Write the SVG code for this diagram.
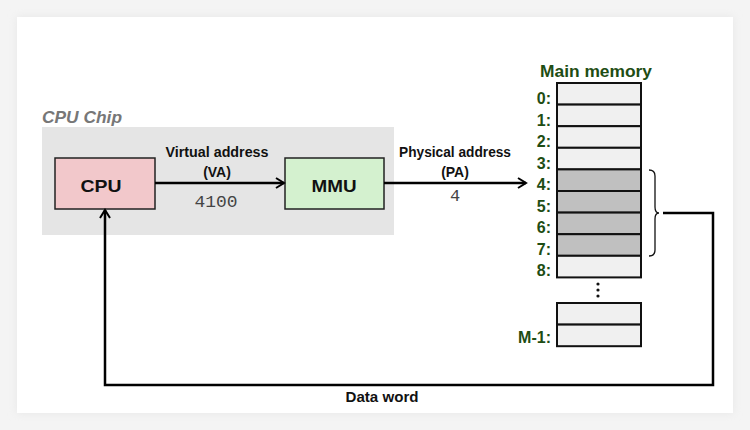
<svg xmlns="http://www.w3.org/2000/svg" width="750" height="430" viewBox="0 0 750 430">
<defs>
<filter id="sh" x="-10%" y="-10%" width="120%" height="120%">
<feGaussianBlur stdDeviation="4"/>
</filter>
<marker id="arr" markerWidth="12" markerHeight="12" refX="10" refY="6" orient="auto" markerUnits="userSpaceOnUse">
<path d="M2,1 L10,6 L2,11" fill="none" stroke="#000" stroke-width="2"/>
</marker>
</defs>
<style>
.lbl{font-family:"Liberation Sans",Arial,sans-serif;font-weight:bold;fill:#111}
.addr{font-family:"Liberation Sans",Arial,sans-serif;font-weight:bold;fill:#1e4d14;font-size:16px;text-anchor:end}
.mono{font-family:"Liberation Mono","Courier New",monospace;fill:#444}
.cell{fill:#f0f0f0;stroke:#111;stroke-width:2}
.cellg{fill:#c0c0c0;stroke:#111;stroke-width:2}
.wire{fill:none;stroke:#000;stroke-width:2.5}
</style>
<rect width="750" height="430" fill="#f4f4f4"/>
<rect x="17" y="17" width="716" height="396" fill="#e6e6e6" filter="url(#sh)"/>
<rect x="17" y="17" width="716" height="396" fill="#ffffff"/>

<g id="chip">
<rect x="42" y="127" width="352" height="108" fill="#e5e5e5"/>
<text x="42" y="123" font-family="Liberation Sans,Arial,sans-serif" font-style="italic" font-weight="bold" font-size="17" fill="#777" textLength="80" lengthAdjust="spacingAndGlyphs">CPU Chip</text>
</g>

<g id="cpu">
<rect x="55" y="158" width="100" height="51" fill="#f2c8cb" stroke="#222" stroke-width="1.5"/>
<text class="lbl" x="101" y="192" font-size="17" text-anchor="middle" textLength="41" lengthAdjust="spacingAndGlyphs">CPU</text>
</g>

<g id="mmu">
<rect x="285" y="158" width="99" height="51" fill="#d4f1cf" stroke="#222" stroke-width="1.5"/>
<text class="lbl" x="334" y="192" font-size="17" text-anchor="middle" textLength="45" lengthAdjust="spacingAndGlyphs">MMU</text>
</g>

<g id="memory">
<text x="596" y="77" font-family="Liberation Sans,Arial,sans-serif" font-weight="bold" font-size="16" fill="#1e4d14" text-anchor="middle" textLength="112" lengthAdjust="spacingAndGlyphs">Main memory</text>
<rect class="cell" x="557" y="83" width="84" height="21.6"/>
<rect class="cell" x="557" y="104.6" width="84" height="21.6"/>
<rect class="cell" x="557" y="126.2" width="84" height="21.6"/>
<rect class="cell" x="557" y="147.8" width="84" height="21.6"/>
<rect class="cellg" x="557" y="169.4" width="84" height="21.6"/>
<rect class="cellg" x="557" y="191" width="84" height="21.6"/>
<rect class="cellg" x="557" y="212.6" width="84" height="21.6"/>
<rect class="cellg" x="557" y="234.2" width="84" height="21.6"/>
<rect class="cell" x="557" y="255.8" width="84" height="21.6"/>
<rect class="cell" x="557" y="303" width="84" height="21.6"/>
<rect class="cell" x="557" y="324.6" width="84" height="21.6"/>
<circle cx="598" cy="284" r="1.6" fill="#111"/>
<circle cx="598" cy="290" r="1.6" fill="#111"/>
<circle cx="598" cy="296" r="1.6" fill="#111"/>
<text class="addr" x="551" y="104">0:</text>
<text class="addr" x="551" y="126">1:</text>
<text class="addr" x="551" y="147">2:</text>
<text class="addr" x="551" y="169">3:</text>
<text class="addr" x="551" y="190">4:</text>
<text class="addr" x="551" y="212">5:</text>
<text class="addr" x="551" y="233">6:</text>
<text class="addr" x="551" y="255">7:</text>
<text class="addr" x="551" y="276">8:</text>
<text class="addr" x="551" y="343">M-1:</text>
<path d="M649,170 Q655,170 655,176 L655,207 Q655,213 659,213 Q655,213 655,219 L655,250 Q655,256 649,256" fill="none" stroke="#111" stroke-width="1.3"/>
</g>

<g id="connectors">
<line class="wire" x1="155" y1="183" x2="284" y2="183" marker-end="url(#arr)"/>
<line class="wire" x1="384" y1="183" x2="526" y2="183" marker-end="url(#arr)"/>
<polyline class="wire" points="663,213 713,213 713,385 105,385 105,210" marker-end="url(#arr)"/>
<text class="lbl" x="217" y="157" font-size="14" text-anchor="middle" textLength="103" lengthAdjust="spacingAndGlyphs">Virtual address</text>
<text class="lbl" x="217" y="177" font-size="14" text-anchor="middle">(VA)</text>
<text class="mono" x="216" y="207" font-size="17" text-anchor="middle" textLength="43" lengthAdjust="spacingAndGlyphs">4100</text>
<text class="lbl" x="455" y="157" font-size="14" text-anchor="middle" textLength="112" lengthAdjust="spacingAndGlyphs">Physical address</text>
<text class="lbl" x="455" y="177" font-size="14" text-anchor="middle">(PA)</text>
<text class="mono" x="455" y="201" font-size="17" text-anchor="middle">4</text>
<text class="lbl" x="382" y="402" font-size="14" text-anchor="middle" textLength="73" lengthAdjust="spacingAndGlyphs">Data word</text>
</g>
</svg>
